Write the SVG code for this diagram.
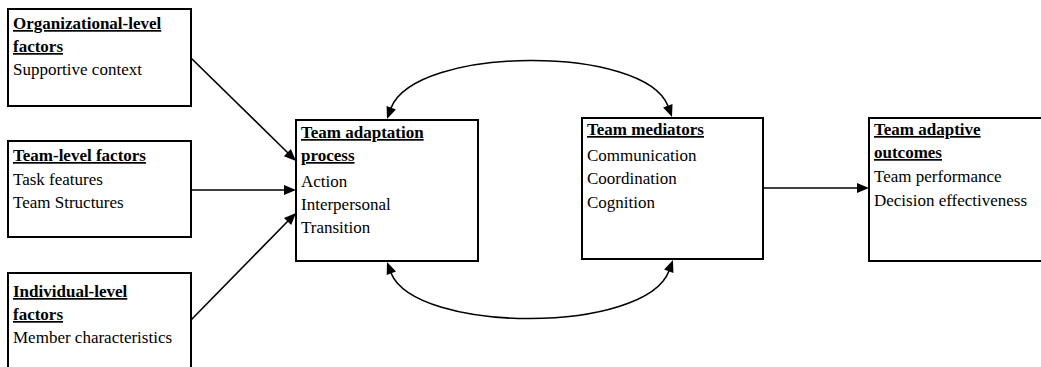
<svg xmlns="http://www.w3.org/2000/svg" width="1041" height="367" viewBox="0 0 1041 367">
  <rect width="1041" height="367" fill="#fff"/>

  <!-- input factor boxes -->
  <g id="org-factors">
    <rect x="8" y="9" width="183" height="97" fill="#fff" stroke="#000" stroke-width="2"/>
    <text x="13" y="29" font-family="Liberation Serif" font-size="17" font-weight="bold" text-decoration="underline">Organizational-level</text>
    <text x="13" y="52" font-family="Liberation Serif" font-size="17" font-weight="bold" text-decoration="underline">factors</text>
    <text x="13" y="75" font-family="Liberation Serif" font-size="17">Supportive context</text>
  </g>

  <g id="team-factors">
    <rect x="8" y="141" width="183" height="96" fill="#fff" stroke="#000" stroke-width="2"/>
    <text x="13" y="161" font-family="Liberation Serif" font-size="17" font-weight="bold" text-decoration="underline">Team-level factors</text>
    <text x="13" y="185" font-family="Liberation Serif" font-size="17">Task features</text>
    <text x="13" y="208" font-family="Liberation Serif" font-size="17">Team Structures</text>
  </g>

  <g id="individual-factors">
    <rect x="8" y="273" width="183" height="110" fill="#fff" stroke="#000" stroke-width="2"/>
    <text x="13" y="297" font-family="Liberation Serif" font-size="17" font-weight="bold" text-decoration="underline">Individual-level</text>
    <text x="13" y="320" font-family="Liberation Serif" font-size="17" font-weight="bold" text-decoration="underline">factors</text>
    <text x="13" y="343" font-family="Liberation Serif" font-size="17">Member characteristics</text>
  </g>

  <!-- process, mediators and outcomes -->
  <g id="adaptation-process">
    <rect x="296" y="120" width="182" height="141" fill="#fff" stroke="#000" stroke-width="2"/>
    <text x="301" y="138" font-family="Liberation Serif" font-size="17" font-weight="bold" text-decoration="underline">Team adaptation</text>
    <text x="301" y="161" font-family="Liberation Serif" font-size="17" font-weight="bold" text-decoration="underline">process</text>
    <text x="301" y="187" font-family="Liberation Serif" font-size="17">Action</text>
    <text x="301" y="210" font-family="Liberation Serif" font-size="17">Interpersonal</text>
    <text x="301" y="233" font-family="Liberation Serif" font-size="17">Transition</text>
  </g>

  <g id="team-mediators">
    <rect x="582" y="118" width="181" height="141" fill="#fff" stroke="#000" stroke-width="2"/>
    <text x="587" y="135" font-family="Liberation Serif" font-size="17" font-weight="bold" text-decoration="underline">Team mediators</text>
    <text x="587" y="161" font-family="Liberation Serif" font-size="17">Communication</text>
    <text x="587" y="184" font-family="Liberation Serif" font-size="17">Coordination</text>
    <text x="587" y="208" font-family="Liberation Serif" font-size="17">Cognition</text>
  </g>

  <g id="adaptive-outcomes">
    <rect x="869" y="118" width="180" height="143" fill="#fff" stroke="#000" stroke-width="2"/>
    <text x="874" y="135" font-family="Liberation Serif" font-size="17" font-weight="bold" text-decoration="underline">Team adaptive</text>
    <text x="874" y="158" font-family="Liberation Serif" font-size="17" font-weight="bold" text-decoration="underline">outcomes</text>
    <text x="874" y="182" font-family="Liberation Serif" font-size="17">Team performance</text>
    <text x="874" y="206" font-family="Liberation Serif" font-size="17">Decision effectiveness</text>
  </g>

  <!-- connectors: lines and curves, with filled arrowheads -->
  <g id="connectors">
    <g fill="none" stroke="#000" stroke-width="1.6">
      <line x1="191" y1="58" x2="288" y2="153"/>
      <line x1="191" y1="190" x2="285" y2="190"/>
      <line x1="191" y1="320" x2="288" y2="221"/>
      <line x1="763" y1="188" x2="858" y2="188"/>
      <path d="M391,108 C416,45 645,45 668,106"/>
      <path d="M391,273 C416,334 645,334 669,271"/>
    </g>
    <g fill="#000">
      <polygon points="296,161 283.9,156.2 290.9,149"/>
      <polygon points="296,190 284,185 284,195"/>
      <polygon points="296,213 291.2,225.1 284,218.1"/>
      <polygon points="869,188 857,183 857,193"/>
      <polygon points="387,119 395.9,109.6 386.6,106"/>
      <polygon points="672,117 663.1,107.5 672.5,104"/>
      <polygon points="387,262 396,271.4 386.7,275"/>
      <polygon points="673,260 673.4,273 664.1,269.5"/>
    </g>
  </g>
</svg>
